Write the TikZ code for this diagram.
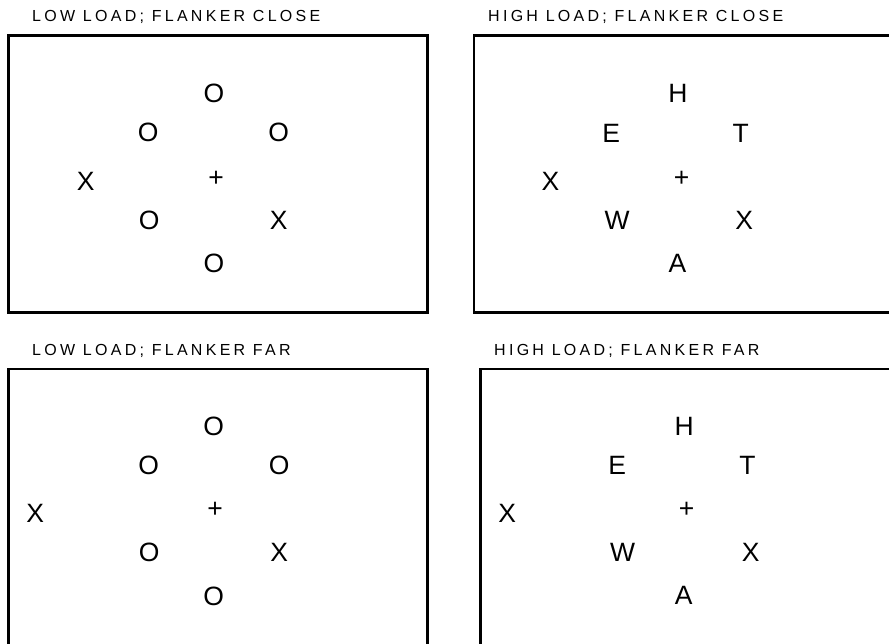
\documentclass[tikz,border=0pt]{standalone}
\usepackage{fontspec}
\setmainfont{Liberation Sans}
\newfontfamily\labelfont[LetterSpace=20.5]{Liberation Sans}
\begin{document}
\begin{tikzpicture}[x=1pt,y=-1pt]
\tikzset{
  panel/.style={draw=black, line width=2.8pt},
  glyph/.style={inner sep=0pt, font=\fontsize{26.5}{30}\selectfont, text height=19pt, text depth=0pt, anchor=center},
  caption/.style={inner sep=0pt, font=\labelfont\fontsize{16}{19}\selectfont, anchor=base west},
}
\clip (0,0) rectangle (889,643);
\fill[white] (0,0) rectangle (889,643);

% captions
\node[caption] (capA) at (32,21.7) {LOW LOAD; FLANKER CLOSE};
\node[caption] (capB) at (488,21.7) {HIGH LOAD; FLANKER CLOSE};
\node[caption] (capC) at (32,355) {LOW LOAD; FLANKER FAR};
\node[caption] (capD) at (494,355) {HIGH LOAD; FLANKER FAR};

% panels
\draw[panel] (8.7,35.5) rectangle (427.5,312.3);
\draw[panel] (474,35.5) rectangle (905,312.3);
\draw[panel] (8.7,369) rectangle (427.5,660);
\draw[panel] (480.7,369) rectangle (905,660);

% low load, flanker close
\node[glyph] (a1) at (214,93) {O};
\node[glyph] (a2) at (148.3,131.7) {O};
\node[glyph] (a3) at (278.8,131.7) {O};
\node[glyph] (a4) at (85.8,181.2) {X};
\node[glyph] (a5) at (216,176.5) {+};
\node[glyph] (a6) at (149.3,219.7) {O};
\node[glyph] (a7) at (278.8,219.7) {X};
\node[glyph] (a8) at (214,262.7) {O};

% high load, flanker close
\node[glyph] (b1) at (678,93) {H};
\node[glyph] (b2) at (611.2,132.5) {E};
\node[glyph] (b3) at (740.8,132.5) {T};
\node[glyph] (b4) at (550.5,181.2) {X};
\node[glyph] (b5) at (681.7,176.5) {+};
\node[glyph] (b6) at (617,219.7) {W};
\node[glyph] (b7) at (744.2,219.7) {X};
\node[glyph] (b8) at (677.5,262.5) {A};

% low load, flanker far
\node[glyph] (c1) at (213.7,426) {O};
\node[glyph] (c2) at (148.8,465) {O};
\node[glyph] (c3) at (279.3,465) {O};
\node[glyph] (c4) at (35.2,513) {X};
\node[glyph] (c5) at (215,508.3) {+};
\node[glyph] (c6) at (149.3,551.7) {O};
\node[glyph] (c7) at (279.2,551.7) {X};
\node[glyph] (c8) at (213.7,596) {O};

% high load, flanker far
\node[glyph] (d1) at (684.2,426.3) {H};
\node[glyph] (d2) at (617.2,464.8) {E};
\node[glyph] (d3) at (747.5,464.8) {T};
\node[glyph] (d4) at (507.2,513) {X};
\node[glyph] (d5) at (686.7,508.3) {+};
\node[glyph] (d6) at (622.5,551.7) {W};
\node[glyph] (d7) at (750.8,551.7) {X};
\node[glyph] (d8) at (683.8,595) {A};
\end{tikzpicture}
\end{document}
